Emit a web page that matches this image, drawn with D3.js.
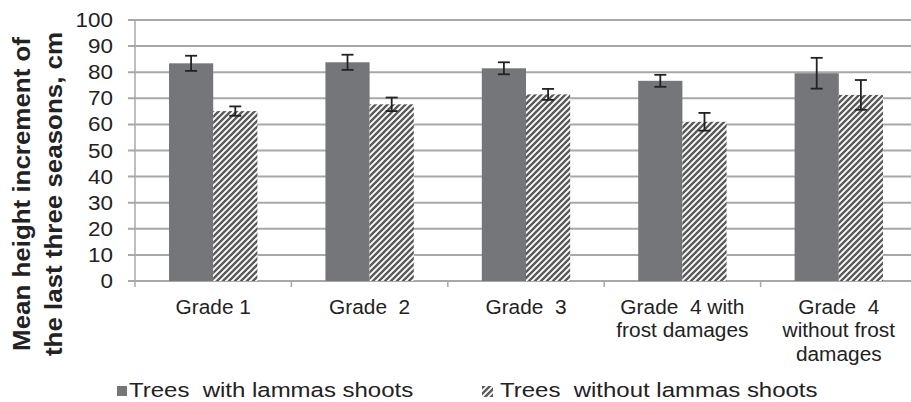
<!DOCTYPE html>
<html>
<head>
<meta charset="utf-8">
<script src="https://cdn.jsdelivr.net/npm/d3@7"></script>
<style>
  body { margin: 0; background: #fff; }
  svg text { font-family: "Liberation Sans", Arial, sans-serif; fill: #222; white-space: pre; }
</style>
</head>
<body>
<div id="chart"></div>
<script>
const grades = ["Grade 1", "Grade  2", "Grade  3", "Grade  4 with|frost damages", "Grade  4|without frost|damages"];
const seriesNames = ["Trees  with lammas shoots", "Trees  without lammas shoots"];
const withLammas = [83.4, 83.8, 81.5, 76.7, 79.6];
const withLammasErr = [2.9, 2.9, 2.3, 2.3, 5.9];
const withoutLammas = [65.1, 67.7, 71.5, 61.0, 71.3];
const withoutLammasErr = [1.8, 2.6, 2.1, 3.4, 5.7];
const yTicks = [0, 10, 20, 30, 40, 50, 60, 70, 80, 90, 100];

const W = 911, H = 402;
const svg = d3.select("#chart").append("svg")
    .attr("width", W)
    .attr("height", H);

// hatch pattern for the second series
const defs = svg.append("defs");
const pat = defs.append("pattern")
    .attr("id", "hatch")
    .attr("patternUnits", "userSpaceOnUse")
    .attr("width", 6).attr("height", 6);
pat.append("rect").attr("width", 6).attr("height", 6).attr("fill", "#fff");
pat.append("path")
    .attr("d", "M-1,7 L7,-1 M-4,4 L4,-4 M2,10 L10,2")
    .attr("stroke", "#5a5a5a")
    .attr("stroke-width", 2.4);

const x = d3.scaleBand()
    .domain(grades)
    .range([135, 917])
    .padding(0);

const xs = d3.scaleBand()
    .domain(seriesNames)
    .range([0, x.bandwidth()])
    .paddingInner(0)
    .paddingOuter(0.77);

const y = d3.scaleLinear()
    .domain([0, 100])
    .range([281, 20]);

// gridlines + left ticks
svg.append("g").selectAll("line")
    .data(yTicks)
    .enter().append("line")
    .attr("x1", 128).attr("x2", W)
    .attr("y1", d => y(d)).attr("y2", d => y(d))
    .attr("stroke", "#a8a8a8")
    .attr("stroke-width", 2);

// y axis line
svg.append("line")
    .attr("x1", 135).attr("x2", 135)
    .attr("y1", y(100)).attr("y2", y(0) + 6)
    .attr("stroke", "#a8a8a8").attr("stroke-width", 1.5);

// category ticks on x axis
svg.append("g").selectAll("line")
    .data(grades.slice(1))
    .enter().append("line")
    .attr("x1", d => x(d)).attr("x2", d => x(d))
    .attr("y1", y(0)).attr("y2", y(0) + 6)
    .attr("stroke", "#a8a8a8").attr("stroke-width", 1.5);

// y tick labels
svg.append("g").selectAll("g")
    .data(yTicks)
    .enter().append("g")
    .attr("transform", d => `translate(113,${y(d) + 7}) scale(1.15,1)`)
    .append("text")
    .attr("text-anchor", "end")
    .style("font-size", "19.5px")
    .text(d => d);

// bars
const rows = grades.map((g, i) => ([
    { g, s: seriesNames[0], v: withLammas[i], e: withLammasErr[i] },
    { g, s: seriesNames[1], v: withoutLammas[i], e: withoutLammasErr[i] }
])).flat();

svg.append("g").selectAll("rect")
    .data(rows)
    .enter().append("rect")
    .attr("x", d => x(d.g) + xs(d.s))
    .attr("width", xs.bandwidth())
    .attr("y", d => y(d.v))
    .attr("height", d => y(0) - y(d.v))
    .attr("fill", d => d.s === seriesNames[0] ? "#757679" : "url(#hatch)");

// error bars
const eb = svg.append("g").attr("stroke", "#222").attr("stroke-width", 1.8);
rows.forEach(d => {
    const cx = x(d.g) + xs(d.s) + xs.bandwidth() / 2;
    eb.append("line").attr("x1", cx).attr("x2", cx).attr("y1", y(d.v + d.e)).attr("y2", y(d.v - d.e));
    eb.append("line").attr("x1", cx - 6).attr("x2", cx + 6).attr("y1", y(d.v + d.e)).attr("y2", y(d.v + d.e));
    eb.append("line").attr("x1", cx - 6).attr("x2", cx + 6).attr("y1", y(d.v - d.e)).attr("y2", y(d.v - d.e));
});

// x labels
const xl = svg.append("g").selectAll("g")
    .data(grades)
    .enter().append("g")
    .attr("transform", d => `translate(${x(d) + x.bandwidth() / 2},314) scale(1.07,1)`)
    .append("text")
    .attr("text-anchor", "middle")
    .style("font-size", "19.5px");
xl.each(function(d) {
    const t = d3.select(this);
    d.split("|").forEach((line, i) => {
        t.append("tspan").attr("x", 0).attr("dy", i === 0 ? 0 : 23.5).text(line);
    });
});

// y title
const yt = svg.append("g")
    .attr("transform", "translate(30,194) rotate(-90) scale(1.08,1)")
    .append("text")
    .attr("text-anchor", "middle")
    .style("font-size", "24px")
    .style("font-weight", "bold");
yt.append("tspan").attr("x", 0).attr("dy", 0).text("Mean height increment of");
yt.append("tspan").attr("x", 0).attr("dy", 31.7).text("the last three seasons, cm");

// legend
const legendX = [117, 482];
seriesNames.forEach((s, i) => {
    svg.append("rect")
        .attr("x", legendX[i]).attr("y", 386)
        .attr("width", i === 0 ? 10 : 11).attr("height", i === 0 ? 10 : 11)
        .attr("fill", i === 0 ? "#757679" : "url(#hatch)");
    svg.append("g")
        .attr("transform", `translate(${legendX[i] + (i === 0 ? 12 : 18)},397) scale(1.17,1)`)
        .append("text")
        .style("font-size", "20.5px")
        .text(s);
});
</script>
</body>
</html>
